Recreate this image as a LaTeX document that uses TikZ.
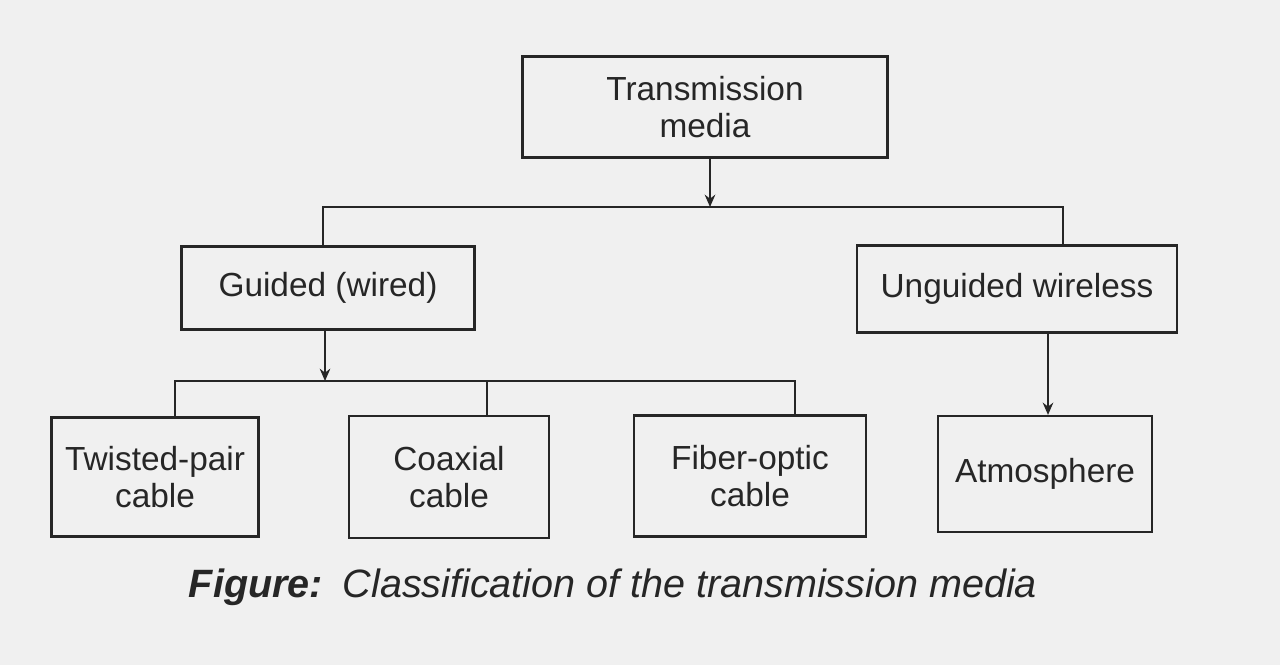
\documentclass[tikz,border=0pt]{standalone}
\usepackage{fontspec}
\setmainfont{Liberation Sans}
\usetikzlibrary{arrows.meta}
\begin{document}
\begin{tikzpicture}[x=0.02cm,y=-0.02cm,
  box/.style={draw=black!85,line width=1.2pt,inner sep=0pt,align=center,font=\fontsize{19}{21}\selectfont,text=black!85},
  ln/.style={draw=black!85,line width=1.2pt},
  arr/.style={ln,-{Stealth[length=7pt,width=6pt]}}]
\fill[gray!12] (0,0) rectangle (1280,665);
\useasboundingbox (0,0) rectangle (1280,665);
\node[box,minimum width=365*0.02cm,minimum height=101*0.02cm] (tm) at (705,107) {Transmission\\media};
\node[box,minimum width=293*0.02cm,minimum height=83*0.02cm] (g) at (328,288) {Guided (wired)};
\node[box,minimum width=320*0.02cm,minimum height=87*0.02cm] (u) at (1017,289) {Unguided wireless};
\node[box,minimum width=207*0.02cm,minimum height=119*0.02cm] (tp) at (155,477) {Twisted-pair\\cable};
\node[box,minimum width=200*0.02cm,minimum height=122*0.02cm] (cx) at (449,477) {Coaxial\\cable};
\node[box,minimum width=232*0.02cm,minimum height=121*0.02cm] (fo) at (750,476) {Fiber-optic\\cable};
\node[box,minimum width=214*0.02cm,minimum height=116*0.02cm] (at) at (1045,474) {Atmosphere};
\coordinate (j1) at (710,207);
\coordinate (j2) at (325,381);
\draw[arr] (tm.south -| j1) -- (j1);
\draw[ln] (g.north -| 323,0) |- (j1) -| (u.north -| 1063,0);
\draw[arr] (g.south -| j2) -- (j2);
\draw[ln] (tp.north -| 175,0) |- (j2) -| (fo.north -| 795,0);
\draw[ln] (cx.north -| 487,0) -- (487,381);
\draw[arr] (u.south -| 1048,0) -- (at.north -| 1048,0);
\node[font=\fontsize{22.5}{24}\selectfont\itshape,text=black!85] (cap) at (613,587) {\textbf{Figure:}\enspace Classification of the transmission media};
\end{tikzpicture}
\end{document}
